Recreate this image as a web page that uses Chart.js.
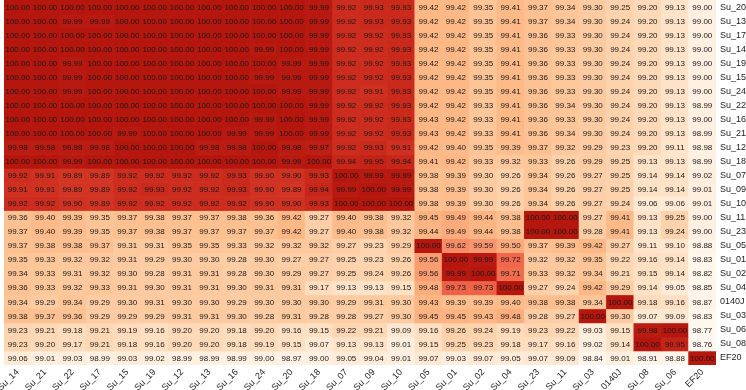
<!DOCTYPE html>
<html>
<head>
<meta charset="utf-8">
<script src="https://cdn.jsdelivr.net/npm/chart.js@4.4.1/dist/chart.umd.min.js"></script>
<style>
html,body{margin:0;padding:0;background:#fff;}
#wrap{width:746px;height:390px;}
</style>
</head>
<body>
<div id="wrap"><canvas id="heat" width="746" height="390"></canvas></div>
<script>
// column order along the bottom
const colLabels = ['Su_14','Su_21','Su_22','Su_17','Su_15','Su_19','Su_12','Su_13','Su_16','Su_24','Su_20','Su_18','Su_07','Su_09','Su_10','Su_05','Su_01','Su_02','Su_04','Su_23','Su_11','Su_03','0140J','Su_08','Su_06','EF20'];
// row order down the right side
const rowLabels = ['Su_20','Su_13','Su_17','Su_14','Su_19','Su_15','Su_24','Su_22','Su_16','Su_21','Su_12','Su_18','Su_07','Su_09','Su_10','Su_11','Su_23','Su_05','Su_01','Su_02','Su_04','0140J','Su_03','Su_06','Su_08','EF20'];

// one array per row, values in column order
const rowSu20 = [100,100,100,100,100,100,100,100,100, 100,100,99.99,99.92,99.93,99.93,99.42,99.42,99.35, 99.41,99.37,99.34,99.30,99.25,99.20,99.13,99.00];
const rowSu13 = [100,100,99.99,99.99,100,100,100,100,100, 100,100,99.99,99.92,99.93,99.93,99.42,99.42,99.35, 99.41,99.37,99.34,99.30,99.24,99.20,99.13,99.00];
const rowSu17 = [100,100,100,100,100,100,100,100,100, 100,100,99.99,99.92,99.92,99.93,99.42,99.42,99.35, 99.41,99.36,99.33,99.30,99.24,99.20,99.13,99.00];
const rowSu14 = [100,100,100,100,100,100,100,100,100, 99.99,100,99.99,99.92,99.92,99.93,99.42,99.42,99.35, 99.41,99.36,99.33,99.30,99.24,99.20,99.13,99.00];
const rowSu19 = [100,100,99.99,100,100,100,100,100,100, 100,99.99,99.99,99.92,99.92,99.93,99.42,99.42,99.35, 99.41,99.36,99.33,99.30,99.24,99.20,99.13,99.00];
const rowSu15 = [100,100,99.99,100,100,100,100,100,100, 99.99,99.99,99.99,99.92,99.92,99.93,99.42,99.42,99.35, 99.41,99.36,99.33,99.30,99.24,99.20,99.13,99.00];
const rowSu24 = [100,100,99.99,100,100,100,100,100,100, 100,99.99,99.99,99.92,99.91,99.93,99.42,99.42,99.35, 99.41,99.36,99.33,99.30,99.24,99.20,99.13,99.00];
const rowSu22 = [100,100,100,100,100,100,100,100,100, 100,100,99.99,99.92,99.92,99.93,99.42,99.42,99.33, 99.41,99.36,99.34,99.30,99.24,99.20,99.13,98.99];
const rowSu16 = [100,100,100,100,100,100,100,100,100, 99.99,100,99.99,99.92,99.92,99.93,99.43,99.42,99.33, 99.41,99.36,99.33,99.30,99.24,99.20,99.13,99.00];
const rowSu21 = [100,100,100,100,99.99,100,100,100,99.99, 99.99,100,99.99,99.92,99.92,99.93,99.43,99.42,99.33, 99.41,99.36,99.34,99.30,99.24,99.20,99.13,98.99];
const rowSu12 = [99.98,99.98,99.98,99.98,100,100,100,99.98,99.98, 100,99.98,99.97,99.92,99.93,99.91,99.42,99.40,99.35, 99.39,99.37,99.32,99.29,99.23,99.20,99.11,98.98];
const rowSu18 = [100,100,99.99,100,100,100,100,100,100, 100,99.99,100,99.94,99.95,99.94,99.41,99.42,99.33, 99.32,99.33,99.26,99.29,99.25,99.13,99.13,98.99];
const rowSu07 = [99.92,99.91,99.89,99.89,99.92,99.92,99.92,99.92,99.93, 99.90,99.90,99.93,100,99.99,99.99,99.38,99.39,99.30, 99.26,99.34,99.26,99.27,99.25,99.14,99.14,99.02];
const rowSu09 = [99.91,99.91,99.89,99.89,99.92,99.93,99.92,99.92,99.93, 99.90,99.89,99.94,99.99,100,99.99,99.38,99.39,99.30, 99.26,99.34,99.26,99.27,99.25,99.14,99.14,99.01];
const rowSu10 = [99.92,99.92,99.90,99.89,99.92,99.92,99.92,99.92,99.92, 99.90,99.90,99.93,100,100,100,99.38,99.39,99.30, 99.26,99.34,99.26,99.27,99.24,99.06,99.06,99.01];
const rowSu11 = [99.36,99.40,99.39,99.35,99.37,99.38,99.37,99.37,99.38, 99.36,99.42,99.27,99.40,99.38,99.32,99.45,99.49,99.44, 99.38,100,100,99.27,99.41,99.13,99.25,99.00];
const rowSu23 = [99.37,99.40,99.39,99.35,99.37,99.38,99.37,99.37,99.37, 99.37,99.42,99.27,99.40,99.38,99.32,99.44,99.49,99.44, 99.38,100,100,99.28,99.41,99.13,99.24,99.00];
const rowSu05 = [99.37,99.38,99.38,99.37,99.31,99.31,99.35,99.35,99.33, 99.32,99.32,99.32,99.27,99.23,99.29,100,99.62,99.59, 99.50,99.37,99.39,99.42,99.27,99.11,99.10,98.88];
const rowSu01 = [99.35,99.33,99.32,99.32,99.31,99.29,99.30,99.30,99.28, 99.30,99.27,99.27,99.25,99.23,99.26,99.56,100,99.99, 99.72,99.32,99.32,99.35,99.22,99.16,99.14,98.83];
const rowSu02 = [99.34,99.33,99.31,99.32,99.30,99.28,99.31,99.31,99.28, 99.30,99.29,99.27,99.25,99.24,99.26,99.56,99.99,100, 99.71,99.33,99.32,99.34,99.21,99.15,99.14,98.82];
const rowSu04 = [99.36,99.33,99.32,99.33,99.31,99.30,99.31,99.31,99.30, 99.31,99.31,99.17,99.13,99.13,99.15,99.48,99.73,99.73, 100,99.27,99.24,99.42,99.29,99.14,99.05,98.85];
const row0140J = [99.34,99.29,99.34,99.29,99.30,99.31,99.30,99.30,99.29, 99.30,99.30,99.30,99.29,99.31,99.30,99.43,99.39,99.39, 99.40,99.38,99.38,99.34,100,99.18,99.16,98.87];
const rowSu03 = [99.38,99.37,99.36,99.29,99.29,99.29,99.31,99.31,99.30, 99.28,99.31,99.28,99.28,99.27,99.30,99.45,99.45,99.43, 99.48,99.28,99.27,100,99.30,99.07,99.09,98.83];
const rowSu06 = [99.23,99.21,99.18,99.21,99.19,99.16,99.20,99.20,99.18, 99.20,99.16,99.15,99.22,99.21,99.09,99.16,99.26,99.24, 99.19,99.23,99.22,99.03,99.15,99.98,100,98.77];
const rowSu08 = [99.23,99.20,99.17,99.21,99.18,99.16,99.20,99.20,99.18, 99.19,99.15,99.07,99.13,99.13,99.01,99.15,99.25,99.23, 99.18,99.17,99.16,99.02,99.14,100,99.95,98.76];
const rowEF20 = [99.06,99.01,99.03,98.99,99.03,99.02,98.99,98.99,98.99, 99.00,98.97,99.00,99.05,99.04,99.01,99.07,99.03,99.07, 99.05,99.07,99.09,98.84,99.01,98.91,98.88,100];

const matrix = [rowSu20,rowSu13,rowSu17,rowSu14,rowSu19,rowSu15,rowSu24,rowSu22,rowSu16,rowSu21,rowSu12,rowSu18,
  rowSu07,rowSu09,rowSu10,rowSu11,rowSu23,rowSu05,rowSu01,rowSu02,rowSu04,row0140J,rowSu03,rowSu06,rowSu08,rowEF20];

// colour ramp (value -> rgb)
const rampStops = [98.76, 99.00, 99.13, 99.25, 99.35, 99.42, 99.50, 99.60, 99.72, 99.80, 99.92, 100.00];
const rampRgb = [[255,248,240],[255,240,225],[254,227,200],[253,210,172],[253,196,150],[253,184,134],
  [252,170,122],[250,148,108],[240,103,75],[225,75,55],[205,45,30],[181,22,14]];

function cellColor(v) {
  if (v <= rampStops[0]) return 'rgb(' + rampRgb[0].join(',') + ')';
  for (let k = 1; k < rampStops.length; k++) {
    if (v <= rampStops[k]) {
      const t = (v - rampStops[k-1]) / (rampStops[k] - rampStops[k-1]);
      const a = rampRgb[k-1], b = rampRgb[k];
      return 'rgb(' + a.map((c, n) => Math.round(c + (b[n] - c) * t)).join(',') + ')';
    }
  }
  return 'rgb(' + rampRgb[rampRgb.length-1].join(',') + ')';
}

// every row is a floating bar dataset spanning [r, r+1] on the y axis
const datasets = matrix.map((vals, r) => ({
  label: rowLabels[r],
  data: vals.map(() => [r, r + 1]),
  cellValues: vals,
  backgroundColor: vals.map(cellColor),
  borderWidth: 0,
  grouped: false,
  barPercentage: 1,
  categoryPercentage: 1
}));

// write the number in each cell
const cellText = {
  id: 'cellText',
  afterDatasetsDraw(chart) {
    const ctx = chart.ctx;
    ctx.save();
    ctx.font = '8px "Liberation Sans", Arial, sans-serif';
    ctx.fillStyle = '#1a1a1a';
    ctx.textAlign = 'center';
    ctx.textBaseline = 'middle';
    chart.data.datasets.forEach((ds, i) => {
      chart.getDatasetMeta(i).data.forEach((bar, j) => {
        ctx.fillText(ds.cellValues[j].toFixed(2), bar.x, (bar.y + bar.base) / 2 + 0.5);
      });
    });
    ctx.restore();
  }
};

Chart.defaults.font.family = '"Liberation Sans", Arial, sans-serif';
Chart.defaults.color = '#222';

new Chart(document.getElementById('heat'), {
  type: 'bar',
  data: { labels: colLabels, datasets: datasets },
  options: {
    responsive: false,
    devicePixelRatio: 1,
    animation: false,
    layout: { padding: { left: 4, top: 0, right: 0, bottom: 0 } },
    plugins: { legend: { display: false }, tooltip: { enabled: false } },
    scales: {
      x: {
        type: 'category',
        position: 'bottom',
        grid: { display: false, drawTicks: false },
        border: { display: false },
        ticks: { minRotation: 45, maxRotation: 45, autoSkip: false, padding: 2, font: { size: 9 } },
        afterFit: (axis) => { axis.height = 25; axis.paddingLeft = 0; axis.paddingRight = 0; }
      },
      y: {
        type: 'linear',
        position: 'right',
        min: 0,
        max: 26,
        reverse: true,
        grid: { display: false, drawTicks: false },
        border: { display: false },
        afterBuildTicks: (axis) => { axis.ticks = rowLabels.map((_, i) => ({ value: i + 0.5 })); },
        ticks: { autoSkip: false, padding: 4, font: { size: 9 }, callback: (v, i) => rowLabels[i] },
        afterFit: (axis) => { axis.width = 30; axis.paddingTop = 0; axis.paddingBottom = 0; }
      }
    }
  },
  plugins: [cellText]
});
</script>
</body>
</html>
